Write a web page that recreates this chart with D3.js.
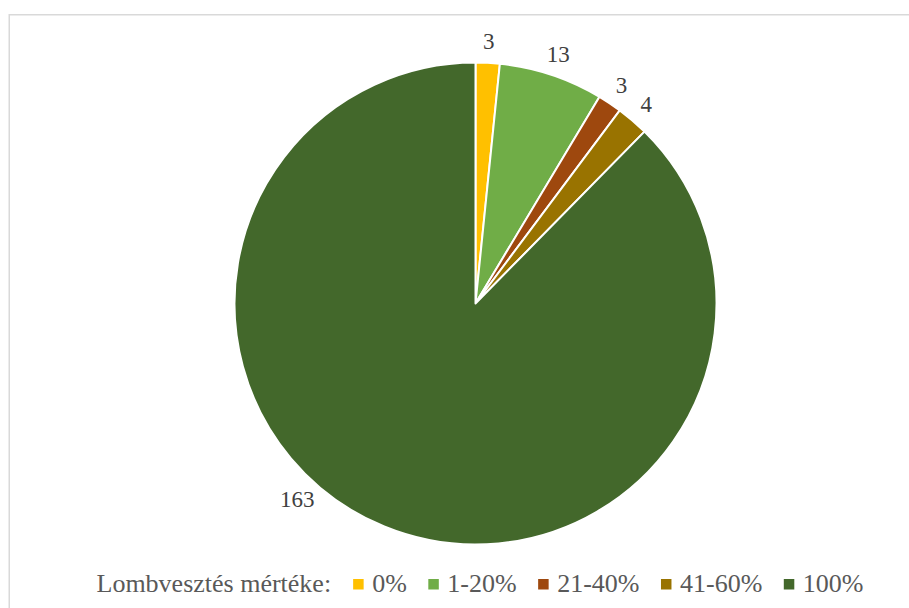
<!DOCTYPE html>
<html>
<head>
<meta charset="utf-8">
<script src="https://cdn.jsdelivr.net/npm/d3@7"></script>
<style>
  html, body { margin: 0; padding: 0; background: #fff; }
  svg { display: block; }
  svg text { font-family: "Liberation Serif", "Times New Roman", Times, "DejaVu Serif", serif; }
</style>
</head>
<body>
<svg id="chart" width="909" height="608"></svg>
<script>
const categories = ["0%", "1-20%", "21-40%", "41-60%", "100%"];
const values = [3, 13, 3, 4, 163];
const colors = ["#FFC000", "#70AD47", "#9E480E", "#997300", "#43682B"];
const legendTitle = "Lombvesztés mértéke:";

const svg = d3.select("#chart");

// chart frame
svg.append("rect")
  .attr("x", 9.25).attr("y", 14.75)
  .attr("width", 920).attr("height", 620)
  .attr("fill", "none")
  .attr("stroke", "#d9d9d9")
  .attr("stroke-width", 1.5);

const cx = 475.5, cy = 303.5, R = 241;
const data = categories.map((c, i) => ({ cat: c, value: values[i], color: colors[i] }));

const pie = d3.pie().value(d => d.value).sort(null);
const arcs = pie(data);
const arc = d3.arc().innerRadius(0).outerRadius(R);

const g = svg.append("g").attr("transform", `translate(${cx},${cy})`);
g.selectAll("path.slice")
  .data(arcs)
  .enter().append("path")
  .attr("class", "slice")
  .attr("d", arc)
  .attr("fill", d => d.data.color)
  .attr("stroke", "#fff")
  .attr("stroke-width", 2)
  .attr("stroke-linejoin", "round");

// data labels (outside end)
const labelR = 262;
g.selectAll("text.lbl")
  .data(arcs)
  .enter().append("text")
  .attr("class", "lbl")
  .style("font-size", "23px")
  .attr("fill", "#404040")
  .attr("text-anchor", "middle")
  .attr("dominant-baseline", "central")
  .attr("transform", d => {
    let a = (d.startAngle + d.endAngle) / 2;
    const big = (d.endAngle - d.startAngle) > Math.PI;
    if (big) a += 20 * Math.PI / 180; // best-fit placement of the large slice label
    const r = big ? labelR + 3 : labelR;
    return `translate(${r * Math.sin(a)},${-r * Math.cos(a)})`;
  })
  .text(d => d.data.value);

// legend
const legend = svg.append("g").attr("class", "legend");
const baseY = 592;
const fs = "26px";
let x = 96.5;
const title = legend.append("text")
  .attr("x", x).attr("y", baseY)
  .style("font-size", fs)
  .attr("fill", "#595959")
  .text(legendTitle);
x += title.node().getComputedTextLength() + 22;
data.forEach(d => {
  legend.append("rect")
    .attr("x", x).attr("y", 579)
    .attr("width", 10.5).attr("height", 10.5)
    .attr("fill", d.color);
  x += 19;
  const t = legend.append("text")
    .attr("x", x).attr("y", baseY)
    .style("font-size", fs)
    .attr("fill", "#595959")
    .text(d.cat);
  x += t.node().getComputedTextLength() + 21.5;
});
</script>
</body>
</html>
